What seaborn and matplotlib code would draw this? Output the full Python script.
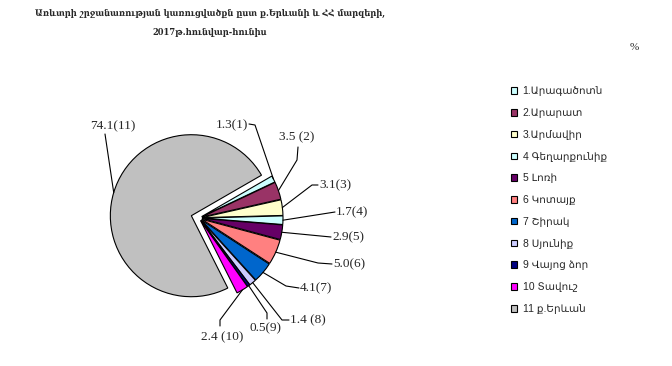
import numpy as np
import matplotlib
matplotlib.use("Agg")
import matplotlib.pyplot as plt
from matplotlib import font_manager as fm
import seaborn as sns

# Trade turnover structure by region, Jan-Jun 2017 (%)
regions = ["1.Արագածոտն", "2.Արարատ", "3.Արմավիր", "4 Գեղարքունիք", "5 Լոռի",
           "6 Կոտայք", "7 Շիրակ", "8 Սյունիք", "9 Վայոց ձոր", "10 Տավուշ", "11 ք.Երևան"]
shares = [1.3, 3.5, 3.1, 1.7, 2.9, 5.0, 4.1, 1.4, 0.5, 2.4, 74.1]
value_labels = ["1.3(1)", "3.5 (2)", "3.1(3)", "1.7(4)", "2.9(5)", "5.0(6)",
                "4.1(7)", "1.4 (8)", "0.5(9)", "2.4 (10)", "74.1(11)"]
colors = ["#CCFFFF", "#993366", "#FFFFCC", "#CCFFFF", "#660066", "#FF8080",
          "#0066CC", "#CCCCFF", "#000080", "#FF00FF", "#C0C0C0"]
title_lines = ["Առևտրի շրջանառության կառուցվածքն ըստ ք.Երևանի և ՀՀ մարզերի,",
               "2017թ.հունվար-հունիս"]

sns.set_style("white")
plt.rcParams['font.family'] = ['Liberation Sans', 'DejaVu Sans']

W, H = 672, 366
fig = plt.figure(figsize=(W / 100, H / 100), dpi=100)
ax = fig.add_axes([0, 0, 1, 1])


def P(x, y):
    # pixel coords (y down) -> data coords (y up)
    return x, H - y


cx, cy = P(199, 218)
explode = [3] * 10 + [8]
wedges, _ = ax.pie(shares, colors=colors, startangle=30, counterclock=False,
                   radius=81, center=(cx, cy), explode=explode,
                   wedgeprops=dict(edgecolor="black", linewidth=0.8))
ax.set_xlim(0, W)
ax.set_ylim(0, H)
ax.set_aspect('auto')
ax.axis('off')

# label text position (pixels), alignment, and line points from text to wedge
label_layout = [
    ((232, 125), 'center', [(249, 124), (255, 125)]),
    ((297, 137), 'center', [(298, 147), (297, 160)]),
    ((319, 185), 'left', [(318, 185), (312, 185)]),
    ((336, 212), 'left', [(335, 212)]),
    ((332, 237), 'left', [(331, 237)]),
    ((333, 264), 'left', [(332, 264), (318, 263)]),
    ((300, 288), 'left', [(299, 288), (286, 286)]),
    ((290, 320), 'left', [(289, 320), (282, 320)]),
    ((266, 328), 'center', [(267, 319), (267, 313)]),
    ((222, 337), 'center', [(220, 326), (220, 320)]),
    ((113, 126), 'center', [(105, 134)]),
]

for w, lab, (tpos, ha, pts) in zip(wedges, value_labels, label_layout):
    tm = np.deg2rad((w.theta1 + w.theta2) / 2)
    ax_, ay_ = w.center[0] + w.r * np.cos(tm), w.center[1] + w.r * np.sin(tm)
    xs = [P(*p)[0] for p in pts] + [ax_]
    ys = [P(*p)[1] for p in pts] + [ay_]
    ax.plot(xs, ys, color="black", linewidth=0.8)
    tx, ty = P(*tpos)
    ax.text(tx, ty, lab, ha=ha, va='center', fontsize=9.5,
            family=['Liberation Serif', 'DejaVu Serif'])

# title in condensed bold serif, sized so the first line is ~350 px wide
cond = [f.fname for f in fm.fontManager.ttflist
        if f.fname.endswith("DejaVuSerifCondensed-Bold.ttf")]
tprop = fm.FontProperties(fname=cond[0]) if cond else \
    fm.FontProperties(family='DejaVu Serif', weight='bold')
t1 = ax.text(*P(210, 13), title_lines[0], ha='center', va='center',
             fontproperties=tprop, fontsize=9)
renderer = fig.canvas.get_renderer()
size = 9 * 350 / t1.get_window_extent(renderer).width
t1.set_fontsize(size)
ax.text(*P(210, 32), title_lines[1], ha='center', va='center',
        fontproperties=tprop, fontsize=size)
ax.text(*P(634, 48), "%", ha='center', va='center', fontsize=8,
        family=['Liberation Serif'])

fig.legend(wedges, regions, loc='upper left', bbox_to_anchor=(506 / W, 1 - 81 / H),
           frameon=False, fontsize=7.5, handlelength=0.6, handleheight=0.6,
           handletextpad=0.5, labelspacing=1.13, borderpad=0)

fig.savefig("out.png", dpi=100)
